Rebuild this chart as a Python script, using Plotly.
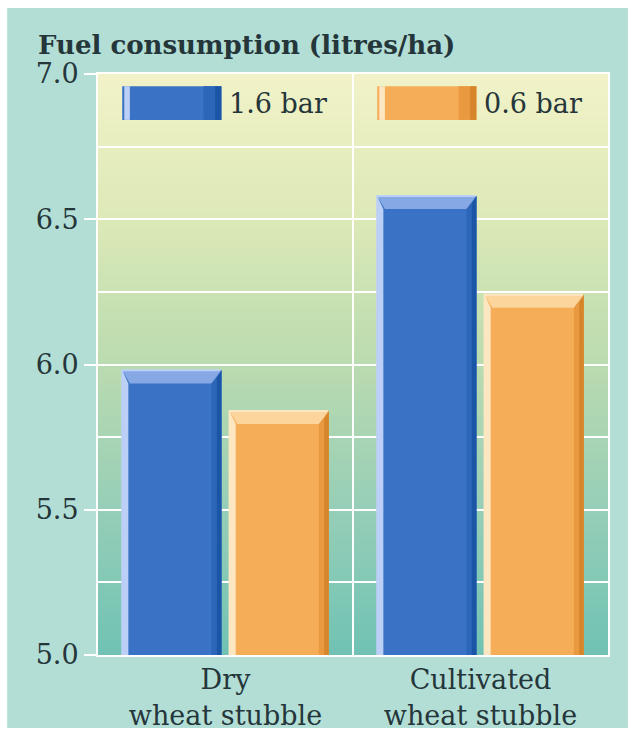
import plotly.graph_objects as go

# ---- data -------------------------------------------------------------
categories = ["Dry<br>wheat stubble", "Cultivated<br>wheat stubble"]
series_names = ["1.6 bar", "0.6 bar"]
fuel_16 = [5.98, 6.58]
fuel_06 = [5.84, 6.24]
y_ticks = [5.0, 5.5, 6.0, 6.5, 7.0]

Y_MIN, Y_MAX = 5.0, 7.0
X_POS = [0, 1]

# ---- style --------------------------------------------------------------
FONT = "DejaVu Serif"
TEXT = "#25363a"
PANEL = "#b3ded6"
palettes = [
    dict(main="#3a73c6", cap="#86a8e4", light="#bccff6", dark="#1b56a6", mid="#2c66b8"),
    dict(main="#f6ad58", cap="#fbd59c", light="#fde7c2", dark="#d6852a", mid="#e99a40"),
]
BAR_W = 0.389
OFFSETS = [-0.405, 0.016]
BX, BY = 0.03, 0.045          # bevel size in axis units

# vertical colour ramp of the plotting area (value -> colour)
ramp = [(7.0, (242, 242, 200)), (6.5, (220, 233, 182)), (6.0, (186, 219, 176)),
        (5.5, (150, 206, 183)), (5.0, (112, 194, 180))]


def ramp_color(v):
    for (v0, c0), (v1, c1) in zip(ramp[:-1], ramp[1:]):
        if v1 <= v <= v0:
            t = (v0 - v) / (v0 - v1)
            return "rgb(%d,%d,%d)" % tuple(round(a + (b - a) * t) for a, b in zip(c0, c1))
    return "rgb(%d,%d,%d)" % ramp[-1][1]


fig = go.Figure()
for name, vals, off, pal in zip(series_names, [fuel_16, fuel_06], OFFSETS, palettes):
    fig.add_trace(go.Bar(
        x=X_POS, y=vals, name=name, width=BAR_W, offset=off,
        marker=dict(color=pal["main"], line=dict(width=0)),
        showlegend=False, hoverinfo="y+name",
    ))

shapes = []
# outer panel
shapes.append(dict(type="rect", xref="paper", yref="paper", layer="below",
                   x0=-0.178, x1=1.039, y0=-0.1256, y1=1.1136,
                   fillcolor=PANEL, line=dict(width=0)))
# gradient background of the plot area (overlapping bands, bottom to top)
N = 80
step = (Y_MAX - Y_MIN) / N
for i in range(N):
    y0 = Y_MIN + i * step
    shapes.append(dict(type="rect", xref="paper", yref="y", layer="below",
                       x0=0, x1=1, y0=y0, y1=min(y0 + step * 2, Y_MAX),
                       fillcolor=ramp_color(y0 + step / 2), line=dict(width=0)))
# separator between the two groups
shapes.append(dict(type="line", xref="x", yref="y", layer="between",
                   x0=(X_POS[0] + X_POS[1]) / 2, x1=(X_POS[0] + X_POS[1]) / 2,
                   y0=Y_MIN, y1=Y_MAX, line=dict(color="white", width=2)))


def bevel(x0, x1, top, pal):
    out = []
    p = lambda pts: "M " + " L ".join("%f,%f" % q for q in pts) + " Z"
    out.append(dict(type="path", xref="x", yref="y", layer="above", line=dict(width=0),
                    fillcolor=pal["cap"],
                    path=p([(x0, top), (x1, top), (x1 - BX, top - BY), (x0 + BX, top - BY)])))
    out.append(dict(type="path", xref="x", yref="y", layer="above", line=dict(width=0),
                    fillcolor=pal["light"],
                    path=p([(x0, top), (x0 + BX * 0.8, top - BY), (x0 + BX * 0.8, Y_MIN), (x0, Y_MIN)])))
    out.append(dict(type="path", xref="x", yref="y", layer="above", line=dict(width=0),
                    fillcolor=pal["mid"],
                    path=p([(x1, top), (x1, Y_MIN), (x1 - BX * 1.3, Y_MIN), (x1 - BX * 1.3, top - BY)])))
    out.append(dict(type="path", xref="x", yref="y", layer="above", line=dict(width=0),
                    fillcolor=pal["dark"],
                    path=p([(x1, top), (x1, Y_MIN), (x1 - BX * 0.6, Y_MIN), (x1 - BX * 0.6, top - BY * 0.6)])))
    # thin light rim along the top and left edges
    out.append(dict(type="path", xref="x", yref="y", layer="above",
                    line=dict(color=pal["light"], width=2),
                    path="M %f,%f L %f,%f L %f,%f" % (x0, Y_MIN, x0, top, x1 - 0.004, top)))
    return out


for vals, off, pal in zip([fuel_16, fuel_06], OFFSETS, palettes):
    for xc, v in zip(X_POS, vals):
        shapes += bevel(xc + off, xc + off + BAR_W, v, pal)

# legend: swatches drawn like the bars, one per group slot
annotations = []
LEG_TOP, LEG_BOT = 6.958, 6.842
for xc, name, pal in zip(X_POS, series_names, palettes):
    x0 = xc + OFFSETS[0]
    x1 = x0 + BAR_W
    shapes.append(dict(type="rect", xref="x", yref="y", x0=x0, x1=x1, y0=LEG_BOT, y1=LEG_TOP,
                       fillcolor=pal["main"], line=dict(width=0)))
    shapes.append(dict(type="rect", xref="x", yref="y", x0=x0 + 0.008, x1=x0 + 0.03,
                       y0=LEG_BOT, y1=LEG_TOP, fillcolor=pal["light"], line=dict(width=0)))
    shapes.append(dict(type="rect", xref="x", yref="y", x0=x1 - 0.07, x1=x1 - 0.025,
                       y0=LEG_BOT, y1=LEG_TOP, fillcolor=pal["mid"], line=dict(width=0)))
    shapes.append(dict(type="rect", xref="x", yref="y", x0=x1 - 0.025, x1=x1,
                       y0=LEG_BOT, y1=LEG_TOP, fillcolor=pal["dark"], line=dict(width=0)))
    annotations.append(dict(x=x1 + 0.02, y=(LEG_TOP + LEG_BOT) / 2, xref="x", yref="y",
                            text=name, showarrow=False, xanchor="left", yanchor="middle",
                            font=dict(family=FONT, size=27, color=TEXT)))

fig.update_layout(
    width=634, height=733,
    margin=dict(l=98, r=26, t=74, b=78),
    paper_bgcolor="white",
    plot_bgcolor="rgba(0,0,0,0)",
    shapes=shapes,
    annotations=annotations,
    title=dict(text="Fuel consumption (litres/ha)", xref="container", yref="container",
               x=38 / 634, xanchor="left", y=1 - 45 / 733, yanchor="middle",
               font=dict(family=FONT, size=26, color=TEXT, weight="bold")),
    xaxis=dict(range=[-0.5, 1.5], tickvals=X_POS, ticktext=categories, automargin=False,
               showgrid=False, zeroline=False, showline=True, linecolor="white",
               linewidth=2, mirror=True, ticks="", ticklabelstandoff=0,
               tickfont=dict(family=FONT, size=27, color=TEXT)),
    yaxis=dict(range=[Y_MIN, Y_MAX], tickvals=y_ticks, ticktext=["%.1f" % t for t in y_ticks],
               automargin=False,
               showgrid=True, gridcolor="white", gridwidth=2,
               minor=dict(dtick=0.25, showgrid=True, gridcolor="white", gridwidth=2),
               zeroline=False, showline=True, linecolor="white", linewidth=2, mirror=True,
               ticks="outside", ticklen=12, tickcolor="white", tickwidth=2,
               tickfont=dict(family=FONT, size=27, color=TEXT)),
    bargap=0.19,
)

fig.write_html("out.html")
